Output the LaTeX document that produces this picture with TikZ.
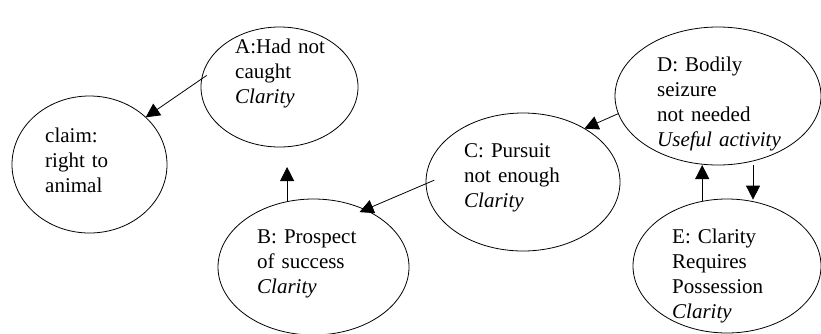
\documentclass[tikz,border=0pt]{standalone}
\usepackage{fontspec}
\setmainfont{Liberation Serif}
\usetikzlibrary{shapes.geometric, arrows.meta}

\begin{document}
\begin{tikzpicture}[x=1pt, y=-1pt,
    argell/.style={draw, ellipse, line width=0.8pt, inner sep=0pt, outer sep=0pt},
    argtext/.style={anchor=base west, align=left, inner sep=0pt, text width=160pt,
        font=\fontsize{21}{25}\selectfont},
    supports/.style={-{Triangle[length=14pt, width=14pt]}, line width=0.8pt}]

    % Page frame
    \useasboundingbox (0,0) rectangle (821,333);

    % Ellipses
    \node[argell, minimum width=155pt, minimum height=137pt] (claim) at (89.5,164.5) {};
    \node[argell, minimum width=157pt, minimum height=120pt] (A) at (279.5,87) {};
    \node[argell, minimum width=191pt, minimum height=136pt] (B) at (313.5,267) {};
    \node[argell, minimum width=194pt, minimum height=138pt] (C) at (523,182) {};
    \node[argell, minimum width=206pt, minimum height=138pt] (D) at (718,96) {};
    \node[argell, minimum width=188pt, minimum height=134pt] (E) at (727,266) {};

    % Texts
    \node[argtext] (claimtxt) at (45,142) {claim:\\right to\\animal};
    \node[argtext] (Atxt) at (235,53) {A:Had not\\caught\\\textit{Clarity}};
    \node[argtext] (Btxt) at (257,243) {B: Prospect\\of success\\\textit{Clarity}};
    \node[argtext] (Ctxt) at (464,157) {C: Pursuit\\not enough\\\textit{Clarity}};
    \node[argtext] (Dtxt) at (657,71) {D: Bodily\\seizure\\not needed\\\textit{Useful activity}};
    \node[argtext] (Etxt) at (672,243) {E: Clarity\\Requires\\Possession\\\textit{Clarity}};

    % Arrows
    \draw[supports, shorten <=-6pt] (A.174) -- (claim.40);
    \draw[supports, shorten >=20pt] (B.112) -- (B.112 |- A.south);
    \draw[supports, shorten <=-9pt, shorten >=-6pt] (C.181) -- (B.48);
    \draw[supports] (D.190) -- (C.41);
    \draw[supports] (E.111) -- (E.111 |- D.south);
    \draw[supports, shorten >=2pt] (E.68 |- D.south) -- (E.68);

\end{tikzpicture}
\end{document}
